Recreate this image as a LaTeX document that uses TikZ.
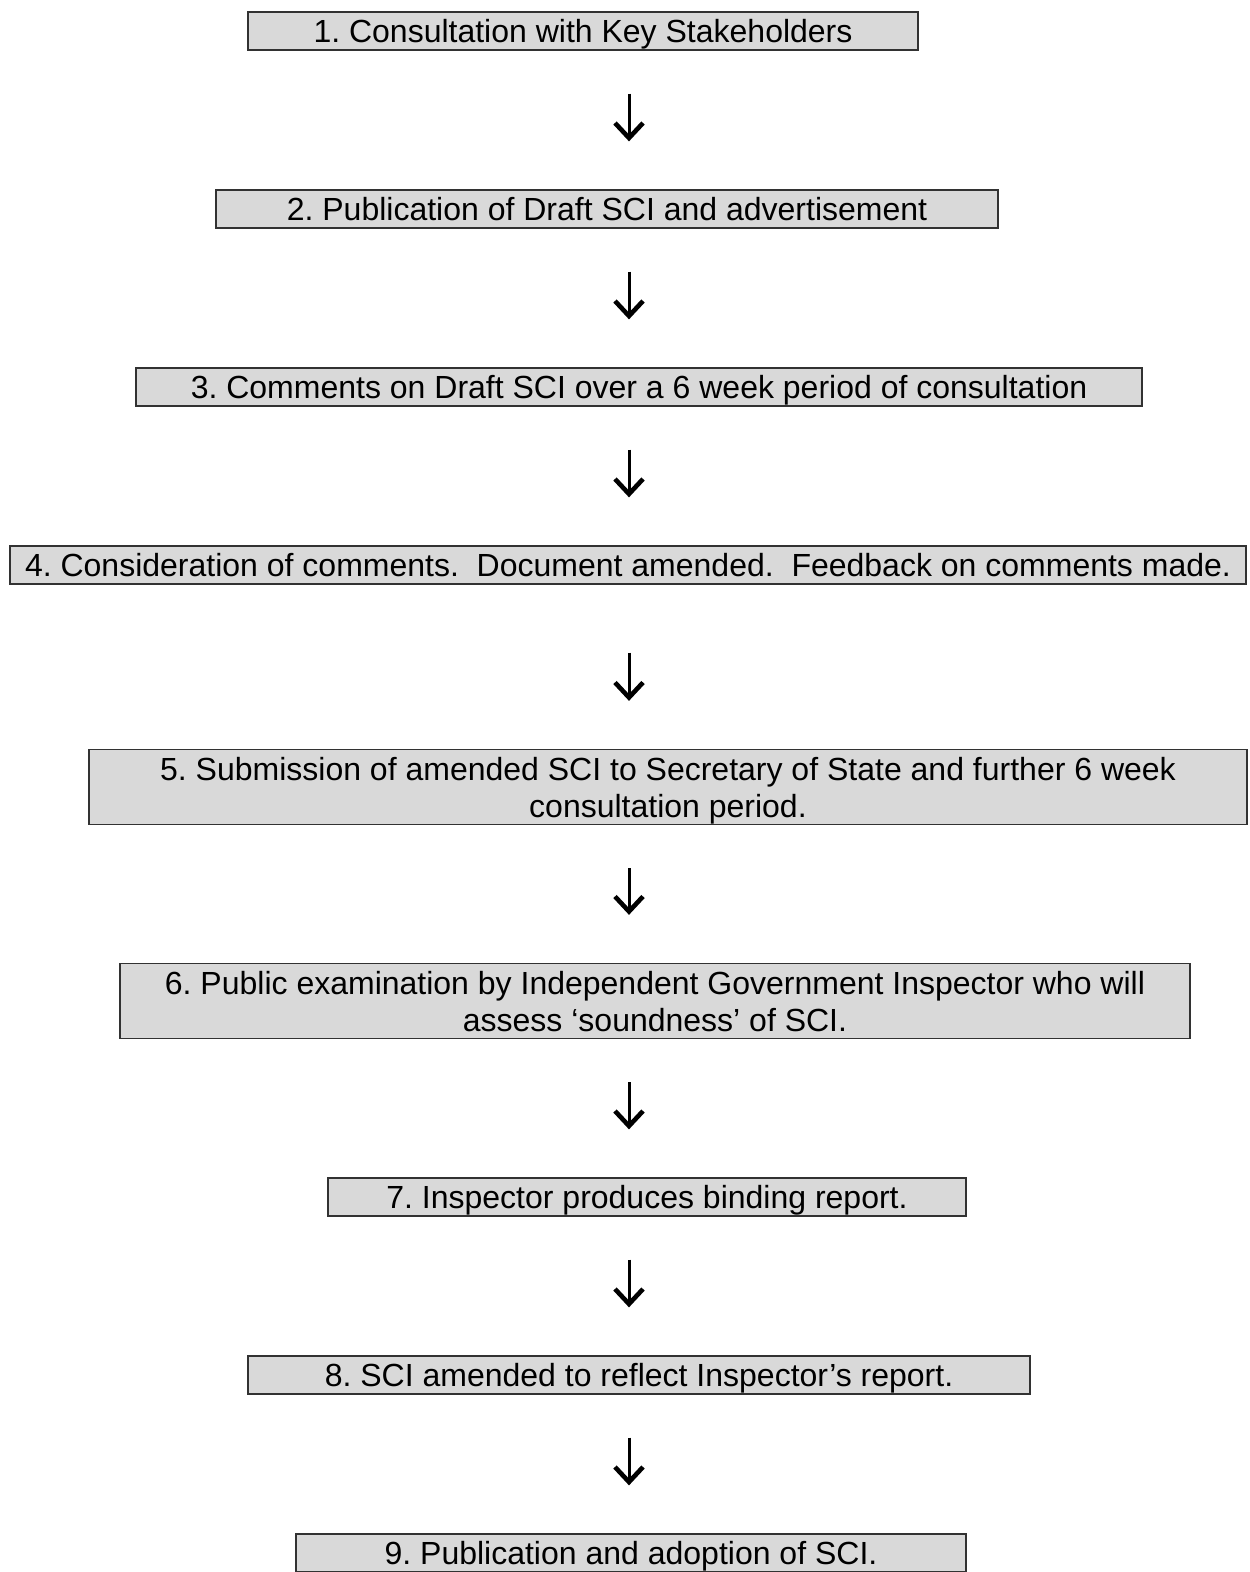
\documentclass[tikz,border=0pt]{standalone}
\usepackage{fontspec}
\setmainfont{Liberation Sans}
\usetikzlibrary{arrows.meta}
\definecolor{boxfill}{RGB}{217,217,217}
\definecolor{boxline}{RGB}{50,50,50}
\frenchspacing
\begin{document}
\begin{tikzpicture}[x=1pt,y=-1pt,
    stage/.style={draw=boxline,line width=1.3pt,fill=boxfill,inner sep=0pt,
        align=center,text height=28pt,text depth=5pt,
        font=\fontsize{32}{37}\selectfont},
    twoline/.style={text height=65pt,text depth=5pt},
    flow/.style={draw,line width=3pt,-{Straight Barb[length=15pt,width=28pt,line width=4.6pt]},
        shorten <=43pt,shorten >=48pt}]
            \useasboundingbox (0,0) rectangle (1250,1572);
            % Nodes
            \node[stage,minimum width=670pt,minimum height=38pt] (S1) at (583,31){1. Consultation with Key Stakeholders};
            \node[stage,minimum width=782pt,minimum height=38pt] (S2) at (607,209){2. Publication of Draft SCI and advertisement};
            \node[stage,minimum width=1006pt,minimum height=38pt] (S3) at (639,387){3. Comments on Draft SCI over a 6 week period of consultation};
            \node[stage,minimum width=1236pt,minimum height=38pt] (S4) at (628,565){4. Consideration of comments.\ \ Document amended.\ \ Feedback on comments made.};
            \node[stage,twoline,minimum width=1158pt,minimum height=75pt] (S5) at (668,787){5. Submission of amended SCI to Secretary of State and further 6 week\\consultation period.};
            \node[stage,twoline,minimum width=1070pt,minimum height=75pt] (S6) at (655,1001){6. Public examination by Independent Government Inspector who will\\assess ‘soundness’ of SCI.};
            \node[stage,minimum width=638pt,minimum height=38pt] (S7) at (647,1197){7. Inspector produces binding report.};
            \node[stage,minimum width=782pt,minimum height=38pt] (S8) at (639,1375){8. SCI amended to reflect Inspector’s report.};
            \node[stage,minimum width=670pt,minimum height=38pt] (S9) at (631,1553){9. Publication and adoption of SCI.};
            \coordinate (ax) at (629,0);
            % Edges
            \path[flow] (S1.south -| ax) to (S2.north -| ax);
            \path[flow] (S2.south -| ax) to (S3.north -| ax);
            \path[flow] (S3.south -| ax) to (S4.north -| ax);
            \path[flow,shorten <=68pt] (S4.south -| ax) to (S5.north -| ax);
            \path[flow] (S5.south -| ax) to (S6.north -| ax);
            \path[flow] (S6.south -| ax) to (S7.north -| ax);
            \path[flow] (S7.south -| ax) to (S8.north -| ax);
            \path[flow] (S8.south -| ax) to (S9.north -| ax);
        \end{tikzpicture}
\end{document}
